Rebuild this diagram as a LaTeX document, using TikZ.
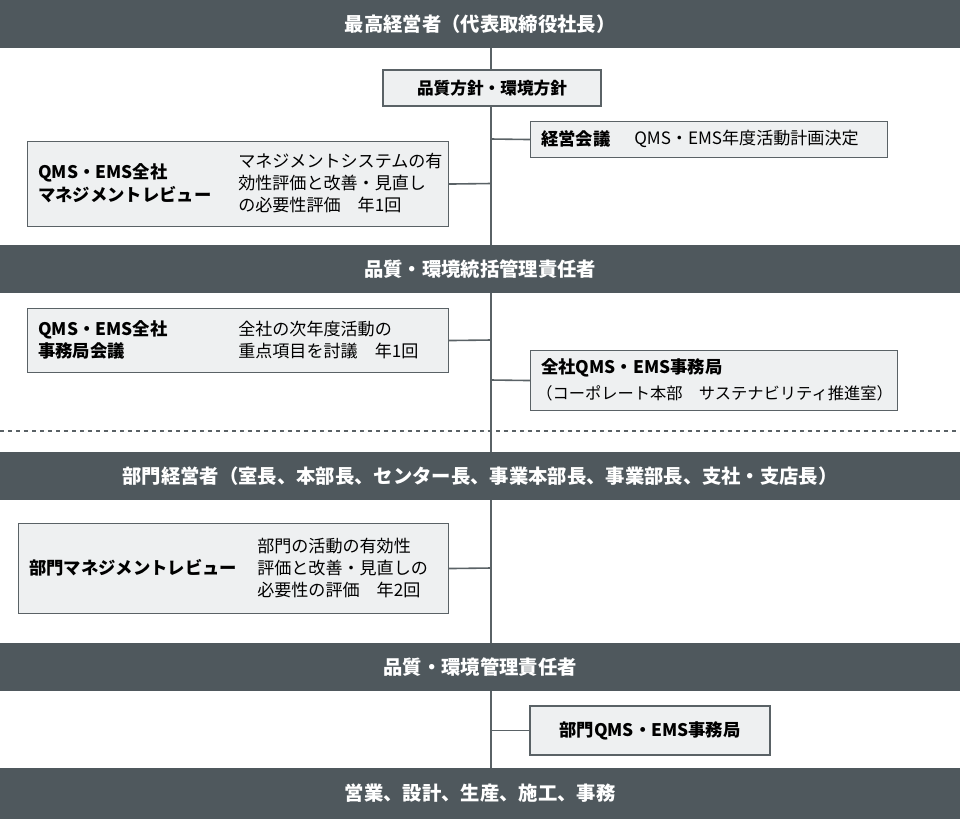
\documentclass[tikz,border=0pt]{standalone}
\usepackage{fontspec}
\setmainfont{Noto Sans CJK JP}
\begin{document}
\begin{tikzpicture}[x=0.75pt,y=-0.75pt,
  bar/.style={fill=barc,draw=none,minimum width=960*0.75pt,minimum height=48*0.75pt,text=white,font=\fontsize{14.5}{17}\selectfont\bfseries,inner sep=0},
  box/.style={fill=boxc,draw=linec,line width=0.8pt,inner sep=0,anchor=north west},
  ln/.style={draw=linec,line width=1.2pt},
  t/.style={font=\fontsize{12.8}{16.5}\selectfont,align=left,anchor=west,inner sep=0},
  tb/.style={font=\fontsize{13}{17}\selectfont\bfseries,align=left,anchor=west,inner sep=0}]
\definecolor{barc}{HTML}{4F585D}
\definecolor{boxc}{HTML}{EEF0F1}
\definecolor{linec}{HTML}{5A6266}
\useasboundingbox (0,0) rectangle (960,819);
\coordinate (top) at (491,48);
\coordinate (bot) at (491,768);
\draw[ln] (top) -- (bot);
\node[bar] (b1) at (480,24) {最高経営者（代表取締役社長）};
\node[bar] (b2) at (480,269) {品質・環境統括管理責任者};
\node[bar] (b3) at (480,476) {部門経営者（室長、本部長、センター長、事業本部長、事業部長、支社・支店長）};
\node[bar] (b4) at (480,667) {品質・環境管理責任者};
\node[bar,minimum height=51*0.75pt] (b5) at (480,793.5) {営業、設計、生産、施工、事務};
\draw[dashed,draw=linec,line width=1pt] (0,431) -- (960,431);
\node[box,minimum width=218*0.75pt,minimum height=36*0.75pt,anchor=center,font=\fontsize{12.5}{16}\selectfont\bfseries] (p) at (492,88) {品質方針・環境方針};
\node[box,minimum width=357*0.75pt,minimum height=36*0.75pt] (k) at (530,121) {};
\node[tb] at (541,139) {経営会議};
\node[t] at (634,139) {QMS・EMS年度活動計画決定};
\coordinate (kc) at (491,139);
\draw[ln] (kc) -- (k.west);
\node[box,minimum width=421*0.75pt,minimum height=85*0.75pt] (r1) at (27,141) {};
\node[tb] at (38,183.5) {QMS・EMS全社\\マネジメントレビュー};
\node[t] at (238,183.5) {マネジメントシステムの有\\効性評価と改善・見直し\\の必要性評価\quad 年1回};
\coordinate (r1c) at (491,183.5);
\draw[ln] (r1.east) -- (r1c);
\node[box,minimum width=421*0.75pt,minimum height=64*0.75pt] (r2) at (27,308) {};
\node[tb] at (38,340) {QMS・EMS全社\\事務局会議};
\node[t] at (238,340) {全社の次年度活動の\\重点項目を討議\quad 年1回};
\coordinate (r2c) at (491,340);
\draw[ln] (r2.east) -- (r2c);
\node[box,minimum width=367*0.75pt,minimum height=60*0.75pt] (s) at (530,350) {};
\node[tb] at (541,368) {全社QMS・EMS事務局};
\node[t,font=\fontsize{12.2}{16}\selectfont] at (536,393) {（コーポレート本部\quad サステナビリティ推進室）};
\coordinate (sc) at (491,380);
\draw[ln] (sc) -- (s.west);
\node[box,minimum width=430*0.75pt,minimum height=90*0.75pt] (r3) at (18,523) {};
\node[tb] at (29,568) {部門マネジメントレビュー};
\node[t] at (257,568) {部門の活動の有効性\\評価と改善・見直しの\\必要性の評価\quad 年2回};
\coordinate (r3c) at (491,568);
\draw[ln] (r3.east) -- (r3c);
\node[box,minimum width=240*0.75pt,minimum height=49*0.75pt,anchor=center,font=\fontsize{13}{16}\selectfont\bfseries] (d) at (650,730.5) {部門QMS・EMS事務局};
\coordinate (dc) at (491,730.5);
\draw[ln] (dc) -- (d.west);
\end{tikzpicture}
\end{document}
